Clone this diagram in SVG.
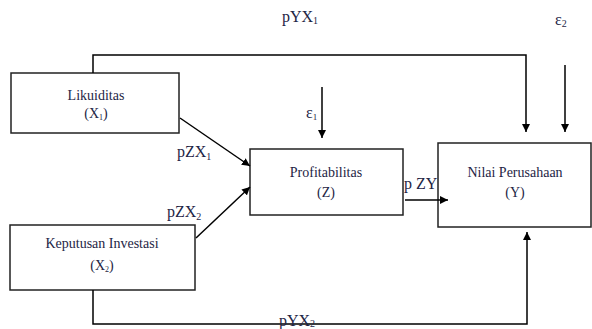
<svg xmlns="http://www.w3.org/2000/svg" width="592" height="329" viewBox="0 0 592 329">
<defs>
<marker id="ah" viewBox="0 0 10 10" refX="10" refY="5" markerWidth="8" markerHeight="8" markerUnits="userSpaceOnUse" orient="auto"><path d="M0,0 L10,5 L0,10 z" fill="#000"/></marker>
<style>
.box{fill:#fff;stroke:#222;stroke-width:1.5}
.t{font-family:"Liberation Serif","Times New Roman","DejaVu Serif",serif;font-size:14px;fill:#1e2545;text-anchor:middle}
.lbl{font-family:"Liberation Serif","Times New Roman","DejaVu Serif",serif;font-size:16px;fill:#1e2545}
.c{fill:none;stroke:#000;stroke-width:1.5}
.ca{fill:none;stroke:#000;stroke-width:1.5;marker-end:url(#ah)}
</style>
</defs>
<rect width="592" height="329" fill="#fff"/>
<g id="likuiditas">
<rect class="box" x="11" y="73" width="168" height="60"/>
<text class="t" x="96" y="100">Likuiditas</text>
<text class="t" x="96" y="118">(X<tspan font-size="8" dy="2">1</tspan><tspan dy="-2">)</tspan></text>
</g>
<g id="keputusan">
<rect class="box" x="10" y="225" width="185" height="65"/>
<text class="t" x="102" y="248">Keputusan Investasi</text>
<text class="t" x="102" y="270">(X<tspan font-size="8" dy="2">2</tspan><tspan dy="-2">)</tspan></text>
</g>
<g id="profitabilitas">
<rect class="box" x="250" y="149" width="153" height="66"/>
<text class="t" x="326" y="177">Profitabilitas</text>
<text class="t" x="326" y="197">(Z)</text>
</g>
<g id="nilai">
<rect class="box" x="438" y="143" width="153" height="84"/>
<text class="t" x="515" y="177">Nilai Perusahaan</text>
<text class="t" x="515" y="197">(Y)</text>
</g>
<g id="connectors">
<polyline class="ca" points="93,73 93,55 526,55 526,132"/>
<line class="ca" x1="565" y1="65" x2="565" y2="132"/>
<line class="ca" x1="322" y1="87" x2="322" y2="138"/>
<line class="ca" x1="180" y1="118" x2="250" y2="166"/>
<line class="ca" x1="196" y1="238" x2="250" y2="187"/>
<line class="ca" x1="405" y1="200" x2="448" y2="200"/>
<polyline class="ca" points="93,290 93,324 527,324 527,232"/>
</g>
<g id="labels">
<text class="lbl" x="282" y="22">pYX<tspan font-size="10" dy="2">1</tspan></text>
<text class="lbl" x="555" y="25">ε<tspan font-size="10" dy="2">2</tspan></text>
<text class="lbl" x="306" y="118" font-size="14">ε<tspan font-size="9" dy="2">1</tspan></text>
<text class="lbl" x="177" y="157">pZX<tspan font-size="10" dy="3">1</tspan></text>
<text class="lbl" x="167" y="217">pZX<tspan font-size="10" dy="3">2</tspan></text>
<text class="lbl" x="404" y="189">p ZY</text>
<text class="lbl" x="279" y="326">pYX<tspan font-size="10" dy="1">2</tspan></text>
</g>
</svg>
